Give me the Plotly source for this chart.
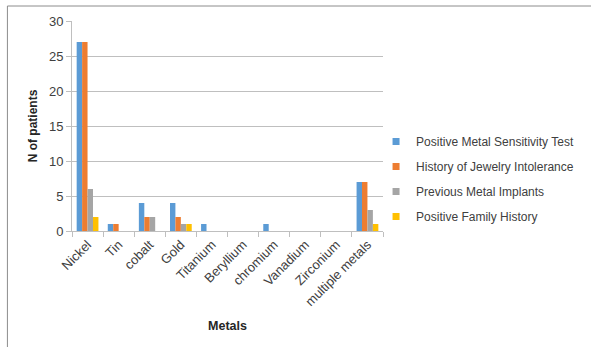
import plotly.graph_objects as go

metals = ["Nickel", "Tin", "cobalt", "Gold", "Titanium", "Beryllium",
          "chromium", "Vanadium", "Zirconium", "multiple metals"]
positive_test = [27, 1, 4, 4, 1, 0, 1, 0, 0, 7]
jewelry_intolerance = [27, 1, 2, 2, 0, 0, 0, 0, 0, 7]
metal_implants = [6, 0, 2, 1, 0, 0, 0, 0, 0, 3]
family_history = [2, 0, 0, 1, 0, 0, 0, 0, 0, 1]

series_names = ["Positive Metal Sensitivity Test", "History of Jewelry Intolerance",
                "Previous Metal Implants", "Positive Family History"]
series_values = [positive_test, jewelry_intolerance, metal_implants, family_history]
colors = ["#5B9BD5", "#ED7D31", "#A5A5A5", "#FFC000"]

fig = go.Figure()
for name, vals, col in zip(series_names, series_values, colors):
    fig.add_trace(go.Bar(x=metals, y=vals, name=name, marker_color=col,
                         marker_line_width=0, showlegend=False))
for i, (name, col) in enumerate(zip(series_names, colors)):
    fig.add_trace(go.Scatter(x=[None], y=[None], mode="markers", name=name,
                             marker=dict(symbol="square", size=7, color=col),
                             legendgroup=f"g{i}"))

L, R, T, B = 72, 385, 21, 231
W, H = 591, 347
pw, ph = R - L, B - T

def px_x(v):
    return (v - L) / pw

def px_y(v):
    return (B - v) / ph

fig.update_layout(
    width=W, height=H,
    margin=dict(l=L, r=W - R, t=T, b=H - B, pad=0),
    paper_bgcolor="white", plot_bgcolor="white",
    font=dict(family="Liberation Sans, Arial, sans-serif", size=12, color="#404040"),
    barmode="group", bargap=0.3, bargroupgap=0,
    legend=dict(x=px_x(378), xanchor="left", y=px_y(127), yanchor="top",
                font=dict(size=12, color="#404040"), tracegroupgap=6,
                itemwidth=30, bgcolor="rgba(0,0,0,0)"),
    xaxis=dict(type="category", tickangle=-45, showline=True, linecolor="#BFBFBF",
               ticks="outside", tickson="boundaries", ticklen=5, tickcolor="#BFBFBF",
               showgrid=False, tickfont=dict(size=13, color="#404040"),
               title=dict(text="<b>Metals</b>", font=dict(size=12.5, color="#262626"),
                          standoff=13)),
    yaxis=dict(range=[0, 30], dtick=5, showline=True, linecolor="#BFBFBF",
               ticks="outside", ticklen=5, tickcolor="#BFBFBF",
               gridcolor="#BFBFBF", gridwidth=1, zeroline=False,
               tickfont=dict(size=13, color="#404040"),
               title=dict(text="<b>N of patients</b>", font=dict(size=12, color="#262626"),
                          standoff=8)),
)

# outer frame (top and left edges visible)
fig.add_shape(type="line", xref="paper", yref="paper",
              x0=px_x(7), x1=px_x(W + 5), y0=px_y(6), y1=px_y(6),
              line=dict(color="#8C8C8C", width=1))
fig.add_shape(type="line", xref="paper", yref="paper",
              x0=px_x(7), x1=px_x(7), y0=px_y(6), y1=px_y(H + 5),
              line=dict(color="#8C8C8C", width=1))

fig.write_html("out.html")
